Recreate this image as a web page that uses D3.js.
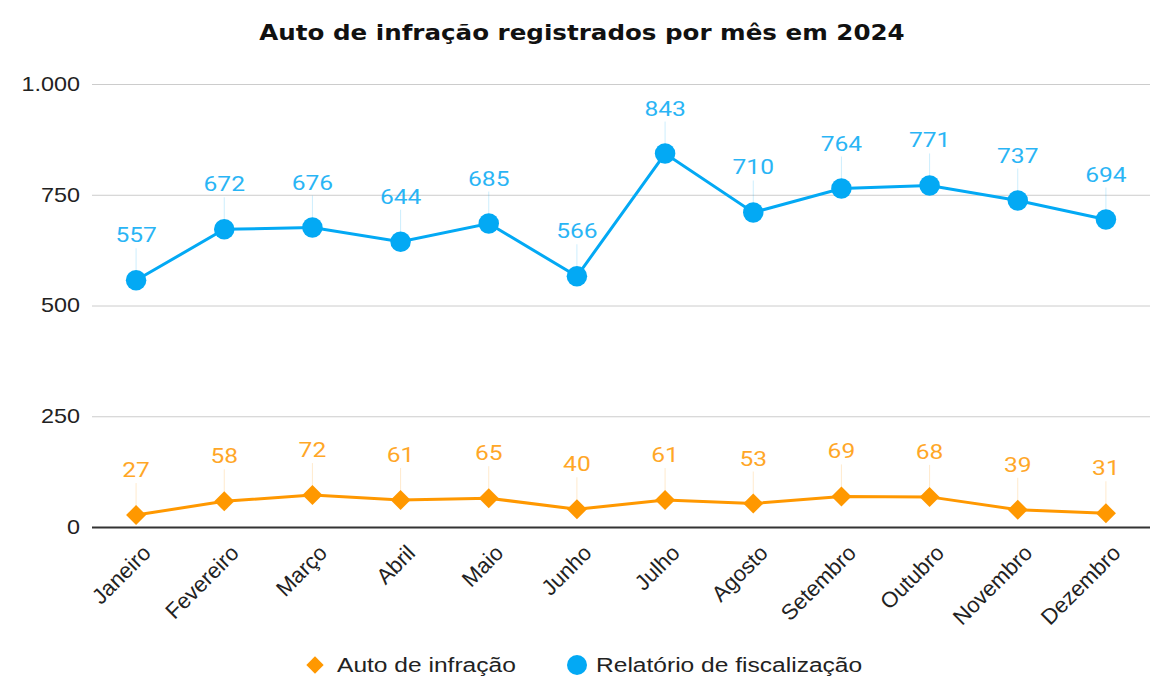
<!DOCTYPE html>
<html>
<head>
<meta charset="utf-8">
<script src="https://cdn.jsdelivr.net/npm/d3@7"></script>
<style>
 body { margin: 0; background: #fff; }
 svg { display: block; }
</style>
</head>
<body>
<div id="chart"></div>
<script>
var meses = ["Janeiro", "Fevereiro", "Março", "Abril", "Maio", "Junho",
 "Julho", "Agosto", "Setembro", "Outubro", "Novembro", "Dezembro"];
var autoInfracao = [27, 58, 72, 61, 65, 40, 61, 53, 69, 68, 39, 31];
var relatorioFiscalizacao = [557, 672, 676, 644, 685, 566, 843, 710, 764, 771, 737, 694];
var yTicks = [0, 250, 500, 750, 1000];

var w = 1152, h = 692;
var m = { top: 84, right: 2, bottom: 165, left: 92 };
var width = w - m.left - m.right,
 height = h - m.top - m.bottom;

var azul = "#03a9f4", laranja = "#ff9800";
var esticar = 1.17; // o texto da referência é um pouco mais largo

var svg = d3.select("#chart").append("svg")
 .attr("width", w)
 .attr("height", h);

// titulo
svg.append("text")
 .attr("transform", "translate(582,40) scale(" + esticar + ",1)")
 .attr("text-anchor", "middle")
 .style("font-family", "DejaVu Sans")
 .style("font-weight", "bold")
 .style("font-size", "21px")
 .style("fill", "#111")
 .text("Auto de infração registrados por mês em 2024");

var g = svg.append("g")
 .attr("transform", "translate(" + m.left + "," + m.top + ")");

var xScale = d3.scalePoint().domain(meses).range([0, width]).padding(0.5);
var yScale = d3.scaleLinear().domain([0, 1000]).range([height, 0]);

// grade + eixo y
var yAxis = g.append("g")
 .call(d3.axisLeft(yScale).tickValues(yTicks)
 .tickSize(-width)
 .tickFormat(function(d) { return d3.format(",")(d).replace(",", "."); }));
yAxis.select(".domain").remove();
yAxis.selectAll(".tick line")
 .attr("stroke", function(d) { return d === 0 ? "#333" : "#ccc"; })
 .attr("stroke-width", function(d) { return d === 0 ? 2 : 1; });
yAxis.selectAll(".tick text")
 .attr("x", null)
 .attr("transform", "translate(-12,0) scale(" + esticar + ",1)")
 .style("font-family", "Liberation Sans")
 .style("font-size", "20px")
 .style("fill", "#222");

// eixo x
var xAxis = g.append("g")
 .attr("transform", "translate(0," + height + ")")
 .call(d3.axisBottom(xScale).tickSize(0));
xAxis.select(".domain").remove();
xAxis.selectAll(".tick text")
 .attr("y", null)
 .attr("text-anchor", "end")
 .attr("dy", "0.35em")
 .attr("transform", "translate(10,22) rotate(-45)")
 .style("font-family", "Liberation Sans")
 .style("font-size", "22px")
 .style("fill", "#222");

function serie(valores, cor, circulo) {
 var dados = valores.map(function(v, i) { return { mes: meses[i], valor: v }; });
 var linha = d3.line()
 .x(function(d) { return xScale(d.mes); })
 .y(function(d) { return yScale(d.valor); });

 // linhas guia dos rótulos
 g.selectAll(null).data(dados).enter().append("line")
 .attr("x1", function(d) { return xScale(d.mes); })
 .attr("x2", function(d) { return xScale(d.mes); })
 .attr("y1", function(d) { return yScale(d.valor) - 32; })
 .attr("y2", function(d) { return yScale(d.valor); })
 .attr("stroke", cor).attr("stroke-opacity", 0.2).attr("stroke-width", 1);

 g.append("path").datum(dados)
 .attr("fill", "none")
 .attr("stroke", cor)
 .attr("stroke-width", 3)
 .attr("d", linha);

 g.selectAll(null).data(dados).enter().append("path")
 .attr("transform", function(d) {
 return "translate(" + xScale(d.mes) + "," + yScale(d.valor) + ")" + (circulo ? "" : " rotate(45)");
 })
 .attr("d", d3.symbol().type(circulo ? d3.symbolCircle : d3.symbolSquare).size(circulo ? 330 : 200))
 .attr("fill", cor);

 g.selectAll(null).data(dados).enter().append("text")
 .attr("transform", function(d) {
 return "translate(" + xScale(d.mes) + "," + (yScale(d.valor) - 38) + ") scale(" + esticar + ",1)";
 })
 .attr("text-anchor", "middle")
 .style("font-family", "Roboto")
 .style("font-size", "21px")
 .style("fill", cor)
 .style("opacity", 0.85)
 .text(function(d) { return d.valor; });
}

serie(autoInfracao, laranja, false);
serie(relatorioFiscalizacao, azul, true);

// legenda
var leg = svg.append("g").attr("transform", "translate(0,665)");
leg.append("path").attr("transform", "translate(315,0) rotate(45)")
 .attr("d", d3.symbol().type(d3.symbolSquare).size(150)).attr("fill", laranja);
leg.append("text").attr("transform", "translate(337,0) scale(" + esticar + ",1)").attr("dy", "0.35em")
 .style("font-family", "Liberation Sans").style("font-size", "21px").style("fill", "#222")
 .text("Auto de infração");
leg.append("circle").attr("cx", 577).attr("cy", 0).attr("r", 10).attr("fill", azul);
leg.append("text").attr("transform", "translate(596,0) scale(" + esticar + ",1)").attr("dy", "0.35em")
 .style("font-family", "Liberation Sans").style("font-size", "21px").style("fill", "#222")
 .text("Relatório de fiscalização");
</script>
</body>
</html>
